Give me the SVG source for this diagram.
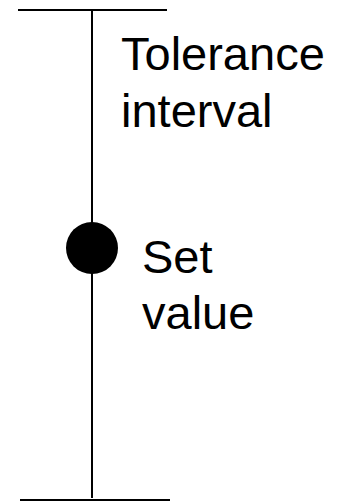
<svg xmlns="http://www.w3.org/2000/svg" width="341" height="501" viewBox="0 0 341 501">
  <style>
    .rule { stroke: #000; stroke-width: 2; fill: none; }
    .label { font-family: "Liberation Sans", Arial, sans-serif; font-size: 47px; fill: #000; }
  </style>
  <rect width="341" height="501" fill="#fff"/>
  <g id="connectors">
    <line class="rule" x1="18" y1="10" x2="167" y2="10"/>
    <line class="rule" x1="92" y1="10" x2="92" y2="498"/>
    <line class="rule" x1="20" y1="500" x2="170" y2="500"/>
  </g>
  <g id="tolerance-interval">
    <text class="label" x="121" y="70">Tolerance</text>
    <text class="label" x="121" y="127">interval</text>
  </g>
  <g id="set-value">
    <circle cx="92" cy="248" r="26" fill="#000"/>
    <text class="label" x="142" y="273">Set</text>
    <text class="label" x="142" y="329">value</text>
  </g>
</svg>
